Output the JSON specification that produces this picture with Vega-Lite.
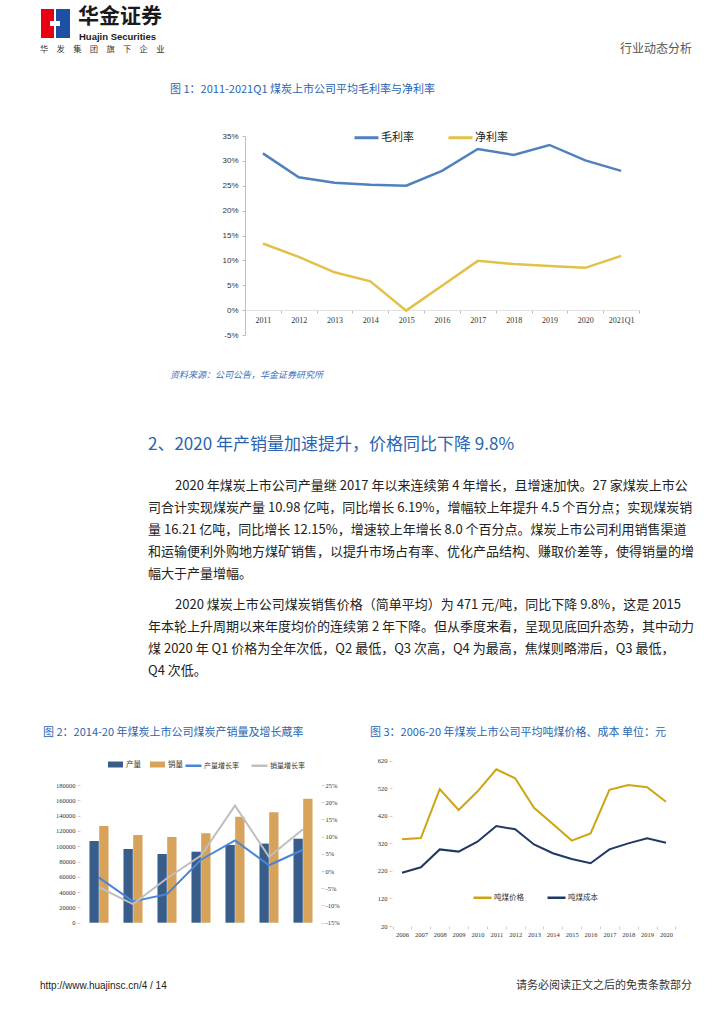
{
  "$schema": "https://vega.github.io/schema/vega-lite/v6.json",
  "width": 724,
  "height": 1024,
  "autosize": {"type": "none"},
  "padding": 0,
  "background": "#ffffff",
  "config": {
    "view": {"stroke": null},
    "font": "Noto Sans CJK SC",
    "axis": {"grid": false, "title": null, "labelColor": "#404040", "domainColor": "#bfbfbf", "tickColor": "#bfbfbf", "labelFlush": false, "labelOverlap": false, "labelAngle": 0}
  },
  "datasets": {
    "fig1": [
      {"年份": "2011", "指标": "毛利率", "值": 0.315}, {"年份": "2012", "指标": "毛利率", "值": 0.267},
      {"年份": "2013", "指标": "毛利率", "值": 0.256}, {"年份": "2014", "指标": "毛利率", "值": 0.252},
      {"年份": "2015", "指标": "毛利率", "值": 0.250}, {"年份": "2016", "指标": "毛利率", "值": 0.280},
      {"年份": "2017", "指标": "毛利率", "值": 0.324}, {"年份": "2018", "指标": "毛利率", "值": 0.312},
      {"年份": "2019", "指标": "毛利率", "值": 0.332}, {"年份": "2020", "指标": "毛利率", "值": 0.301},
      {"年份": "2021Q1", "指标": "毛利率", "值": 0.280},
      {"年份": "2011", "指标": "净利率", "值": 0.134}, {"年份": "2012", "指标": "净利率", "值": 0.107},
      {"年份": "2013", "指标": "净利率", "值": 0.076}, {"年份": "2014", "指标": "净利率", "值": 0.058},
      {"年份": "2015", "指标": "净利率", "值": -0.001}, {"年份": "2016", "指标": "净利率", "值": 0.049},
      {"年份": "2017", "指标": "净利率", "值": 0.099}, {"年份": "2018", "指标": "净利率", "值": 0.0925},
      {"年份": "2019", "指标": "净利率", "值": 0.0885}, {"年份": "2020", "指标": "净利率", "值": 0.085},
      {"年份": "2021Q1", "指标": "净利率", "值": 0.109}
    ],
    "fig2bars": [
      {"年份": "2014", "指标": "产量", "万吨": 106800}, {"年份": "2014", "指标": "销量", "万吨": 126400},
      {"年份": "2015", "指标": "产量", "万吨": 96300}, {"年份": "2015", "指标": "销量", "万吨": 114600},
      {"年份": "2016", "指标": "产量", "万吨": 89800}, {"年份": "2016", "指标": "销量", "万吨": 112000},
      {"年份": "2017", "指标": "产量", "万吨": 92800}, {"年份": "2017", "指标": "销量", "万吨": 116800},
      {"年份": "2018", "指标": "产量", "万吨": 101600}, {"年份": "2018", "指标": "销量", "万吨": 138600},
      {"年份": "2019", "指标": "产量", "万吨": 103400}, {"年份": "2019", "指标": "销量", "万吨": 144500},
      {"年份": "2020", "指标": "产量", "万吨": 109800}, {"年份": "2020", "指标": "销量", "万吨": 162100}
    ],
    "fig2lines": [
      {"年份": "2014", "指标": "产量增长率", "增长率": -0.019}, {"年份": "2015", "指标": "产量增长率", "增长率": -0.088},
      {"年份": "2016", "指标": "产量增长率", "增长率": -0.067}, {"年份": "2017", "指标": "产量增长率", "增长率": 0.033},
      {"年份": "2018", "指标": "产量增长率", "增长率": 0.089}, {"年份": "2019", "指标": "产量增长率", "增长率": 0.0169},
      {"年份": "2020", "指标": "产量增长率", "增长率": 0.0619},
      {"年份": "2014", "指标": "销量增长率", "增长率": -0.047}, {"年份": "2015", "指标": "销量增长率", "增长率": -0.096},
      {"年份": "2016", "指标": "销量增长率", "增长率": -0.021}, {"年份": "2017", "指标": "销量增长率", "增长率": 0.045},
      {"年份": "2018", "指标": "销量增长率", "增长率": 0.19}, {"年份": "2019", "指标": "销量增长率", "增长率": 0.0415},
      {"年份": "2020", "指标": "销量增长率", "增长率": 0.1215}
    ],
    "fig3": [
      {"年份": "2006", "指标": "吨煤价格", "元": 335}, {"年份": "2007", "指标": "吨煤价格", "元": 339},
      {"年份": "2008", "指标": "吨煤价格", "元": 517}, {"年份": "2009", "指标": "吨煤价格", "元": 441},
      {"年份": "2010", "指标": "吨煤价格", "元": 508}, {"年份": "2011", "指标": "吨煤价格", "元": 589},
      {"年份": "2012", "指标": "吨煤价格", "元": 556}, {"年份": "2013", "指标": "吨煤价格", "元": 449},
      {"年份": "2014", "指标": "吨煤价格", "元": 390}, {"年份": "2015", "指标": "吨煤价格", "元": 330},
      {"年份": "2016", "指标": "吨煤价格", "元": 356}, {"年份": "2017", "指标": "吨煤价格", "元": 514},
      {"年份": "2018", "指标": "吨煤价格", "元": 532}, {"年份": "2019", "指标": "吨煤价格", "元": 524},
      {"年份": "2020", "指标": "吨煤价格", "元": 471},
      {"年份": "2006", "指标": "吨煤成本", "元": 213}, {"年份": "2007", "指标": "吨煤成本", "元": 233},
      {"年份": "2008", "指标": "吨煤成本", "元": 298}, {"年份": "2009", "指标": "吨煤成本", "元": 290},
      {"年份": "2010", "指标": "吨煤成本", "元": 326}, {"年份": "2011", "指标": "吨煤成本", "元": 383},
      {"年份": "2012", "指标": "吨煤成本", "元": 371}, {"年份": "2013", "指标": "吨煤成本", "元": 316},
      {"年份": "2014", "指标": "吨煤成本", "元": 284}, {"年份": "2015", "指标": "吨煤成本", "元": 263},
      {"年份": "2016", "指标": "吨煤成本", "元": 248}, {"年份": "2017", "指标": "吨煤成本", "元": 298},
      {"年份": "2018", "指标": "吨煤成本", "元": 320}, {"年份": "2019", "指标": "吨煤成本", "元": 338},
      {"年份": "2020", "指标": "吨煤成本", "元": 322}
    ]
  },
  "layer": [
    {"data": {"values": [{}]}, "mark": {"type": "rect", "x": 41, "x2": 54, "y": 9, "y2": 38, "fill": "#e60012"}, "encoding": {}},
    {"data": {"values": [{}]}, "mark": {"type": "rect", "x": 56, "x2": 70, "y": 9, "y2": 38, "fill": "#1d50a2"}, "encoding": {}},
    {"data": {"values": [{}]}, "mark": {"type": "rect", "x": 50, "x2": 60, "y": 21, "y2": 26, "fill": "#ffffff"}, "encoding": {}},
    {"data": {"values": [{"t": "华金证券"}]}, "mark": {"type": "text", "x": 78, "y": 17, "align": "left", "baseline": "middle", "fontSize": 21, "fontWeight": "bold", "color": "#1a1a1a"}, "encoding": {"text": {"field": "t"}}},
    {"data": {"values": [{"t": "Huajin Securities"}]}, "mark": {"type": "text", "x": 79, "y": 36.5, "align": "left", "baseline": "middle", "font": "Liberation Sans", "fontSize": 9.5, "fontWeight": "bold", "color": "#1a1a1a"}, "encoding": {"text": {"field": "t"}}},
    {"data": {"values": [{"t": "华　发　集　团　旗　下　企　业"}]}, "mark": {"type": "text", "x": 40, "y": 49.5, "align": "left", "baseline": "middle", "fontSize": 8.3, "color": "#333333"}, "encoding": {"text": {"field": "t"}}},
    {"data": {"values": [{"t": "行业动态分析"}]}, "mark": {"type": "text", "x": 692, "y": 49, "align": "right", "baseline": "middle", "fontSize": 12, "color": "#555555"}, "encoding": {"text": {"field": "t"}}},
    {"data": {"values": [{}]}, "mark": {"type": "rule", "x": 40, "x2": 692, "y": 63, "y2": 63, "stroke": "#4f9ad6", "strokeWidth": 2}, "encoding": {}},

    {"data": {"values": [{"t": "图 1：2011-2021Q1 煤炭上市公司平均毛利率与净利率"}]}, "mark": {"type": "text", "x": 170, "y": 90, "align": "left", "baseline": "middle", "fontSize": 11, "color": "#2a64b0"}, "encoding": {"text": {"field": "t"}}},
    {"data": {"values": [{}]}, "mark": {"type": "rule", "x": 168, "x2": 692, "y": 98.5, "y2": 98.5, "stroke": "#6fa8dc", "strokeWidth": 1.2}, "encoding": {}},
    {"data": {"values": [{}]}, "mark": {"type": "rule", "x": 168, "x2": 692, "y": 365, "y2": 365, "stroke": "#6fa8dc", "strokeWidth": 1.2}, "encoding": {}},
    {"data": {"values": [{"t": "资料来源：公司公告，华金证券研究所"}]}, "mark": {"type": "text", "x": 170, "y": 375, "align": "left", "baseline": "middle", "fontSize": 9, "fontStyle": "italic", "color": "#3a6fb8"}, "encoding": {"text": {"field": "t"}}},

    {"data": {"values": [{"t": "2、2020 年产销量加速提升，价格同比下降 9.8%"}]}, "mark": {"type": "text", "x": 148, "y": 445, "align": "left", "baseline": "middle", "fontSize": 17, "color": "#2a64b0"}, "encoding": {"text": {"field": "t"}}},
    {"data": {"values": [{"t": "2020 年煤炭上市公司产量继 2017 年以来连续第 4 年增长，且增速加快。27 家煤炭上市公"}]}, "mark": {"type": "text", "x": 175, "y": 480, "align": "left", "baseline": "top", "fontSize": 13, "color": "#222222"}, "encoding": {"text": {"field": "t"}}},
    {"data": {"values": [{"t": "司合计实现煤炭产量 10.98 亿吨，同比增长 6.19%，增幅较上年提升 4.5 个百分点；实现煤炭销\n量 16.21 亿吨，同比增长 12.15%，增速较上年增长 8.0 个百分点。煤炭上市公司利用销售渠道\n和运输便利外购地方煤矿销售，以提升市场占有率、优化产品结构、赚取价差等，使得销量的增\n幅大于产量增幅。"}]}, "mark": {"type": "text", "x": 148, "y": 502, "align": "left", "baseline": "top", "fontSize": 13, "lineHeight": 22, "lineBreak": "\n", "color": "#222222"}, "encoding": {"text": {"field": "t"}}},
    {"data": {"values": [{"t": "2020 煤炭上市公司煤炭销售价格（简单平均）为 471 元/吨，同比下降 9.8%，这是 2015"}]}, "mark": {"type": "text", "x": 175, "y": 599, "align": "left", "baseline": "top", "fontSize": 13, "color": "#222222"}, "encoding": {"text": {"field": "t"}}},
    {"data": {"values": [{"t": "年本轮上升周期以来年度均价的连续第 2 年下降。但从季度来看，呈现见底回升态势，其中动力\n煤 2020 年 Q1 价格为全年次低，Q2 最低，Q3 次高，Q4 为最高，焦煤则略滞后，Q3 最低，\nQ4 次低。"}]}, "mark": {"type": "text", "x": 148, "y": 621, "align": "left", "baseline": "top", "fontSize": 13, "lineHeight": 22, "lineBreak": "\n", "color": "#222222"}, "encoding": {"text": {"field": "t"}}},

    {"data": {"values": [{"t": "图 2：2014-20 年煤炭上市公司煤炭产销量及增长蔵率"}]}, "mark": {"type": "text", "x": 43, "y": 733, "align": "left", "baseline": "middle", "fontSize": 11, "color": "#2a64b0"}, "encoding": {"text": {"field": "t"}}},
    {"data": {"values": [{}]}, "mark": {"type": "rule", "x": 42, "x2": 336, "y": 742.5, "y2": 742.5, "stroke": "#6fa8dc", "strokeWidth": 1.2}, "encoding": {}},
    {"data": {"values": [{"t": "图 3：2006-20 年煤炭上市公司平均吨煤价格、成本 单位：元"}]}, "mark": {"type": "text", "x": 370, "y": 733, "align": "left", "baseline": "middle", "fontSize": 11, "color": "#2a64b0"}, "encoding": {"text": {"field": "t"}}},
    {"data": {"values": [{}]}, "mark": {"type": "rule", "x": 368, "x2": 683, "y": 742.5, "y2": 742.5, "stroke": "#6fa8dc", "strokeWidth": 1.2}, "encoding": {}},

    {"data": {"values": [{}]}, "mark": {"type": "rule", "x": 40, "x2": 692, "y": 977, "y2": 977, "stroke": "#4f9ad6", "strokeWidth": 2}, "encoding": {}},
    {"data": {"values": [{"t": "http://www.huajinsc.cn/4 / 14"}]}, "mark": {"type": "text", "x": 40, "y": 986, "align": "left", "baseline": "middle", "font": "Liberation Sans", "fontSize": 10, "color": "#222222"}, "encoding": {"text": {"field": "t"}}},
    {"data": {"values": [{"t": "请务必阅读正文之后的免责条款部分"}]}, "mark": {"type": "text", "x": 692, "y": 986, "align": "right", "baseline": "middle", "fontSize": 11, "color": "#333333"}, "encoding": {"text": {"field": "t"}}},

    {
      "data": {"name": "fig1"},
      "mark": {"type": "line", "strokeWidth": 2.5},
      "encoding": {
        "x": {"field": "年份", "type": "ordinal", "sort": null, "bandPosition": 0.5,
          "scale": {"type": "band", "range": [245, 639], "paddingInner": 0, "paddingOuter": 0},
          "axis": {"orient": "bottom", "offset": -714, "tickBand": "extent", "labelFont": "Liberation Serif", "labelFontSize": 8, "labelPadding": 3, "tickSize": 3, "domainColor": "#e0e0e0", "labelColor": "#333333"}},
        "y": {"field": "值", "type": "quantitative",
          "scale": {"domain": [-0.05, 0.35], "range": [335, 136], "nice": false, "zero": false},
          "axis": {"orient": "left", "offset": -245, "values": [-0.05, 0, 0.05, 0.1, 0.15, 0.2, 0.25, 0.3, 0.35], "labelExpr": "(datum.value < 0 ? '-' : '') + format(abs(datum.value), '.0%')", "labelFont": "Liberation Sans", "labelFontSize": 8, "tickSize": 3, "labelPadding": 4, "labelColor": "#333333"}},
        "color": {"field": "指标", "type": "nominal",
          "scale": {"domain": ["毛利率", "净利率"], "range": ["#4f81bd", "#e3c146"]},
          "legend": {"orient": "none", "legendX": 353, "legendY": 124, "direction": "horizontal", "title": null, "symbolType": "stroke", "symbolSize": 576, "symbolStrokeWidth": 3, "labelFontSize": 11, "labelOffset": 1, "columnPadding": 28, "padding": 0, "labelColor": "#222222"}}
      }
    },

    {
      "layer": [
        {
          "data": {"name": "fig2bars"},
          "mark": {"type": "bar"},
          "encoding": {
            "x": {"field": "年份", "type": "ordinal", "sort": null,
              "scale": {"type": "band", "range": [82, 320], "paddingInner": 0.44, "paddingOuter": 0.22},
              "axis": {"orient": "bottom", "offset": -101.3, "tickBand": "extent", "labelFont": "Liberation Serif", "labelFontSize": 6.5, "labelPadding": 2, "tickSize": 3, "domain": false, "tickColor": "#d0d0d0", "labelColor": "#333333"}},
            "xOffset": {"field": "指标", "sort": ["产量", "销量"], "scale": {"paddingInner": 0.04}},
            "y": {"field": "万吨", "type": "quantitative",
              "scale": {"domain": [0, 180000], "range": [922.7, 785], "nice": false},
              "axis": {"orient": "left", "offset": -80, "values": [0, 20000, 40000, 60000, 80000, 100000, 120000, 140000, 160000, 180000], "format": "d", "labelFont": "Liberation Serif", "labelFontSize": 6.5, "tickSize": 3, "labelPadding": 2, "domain": false, "tickColor": "#d0d0d0", "labelColor": "#333333"}},
            "color": {"field": "指标", "type": "nominal",
              "scale": {"domain": ["产量", "销量"], "range": ["#385d8a", "#d7a35a"]},
              "legend": {"orient": "none", "legendX": 107, "legendY": 756, "direction": "horizontal", "title": null, "symbolType": "M-1,-0.4H1V0.4H-1Z", "symbolSize": 225, "labelFontSize": 7.5, "labelOffset": 2, "columnPadding": 8, "padding": 0, "labelColor": "#333333"}}
          }
        },
        {
          "data": {"name": "fig2lines"},
          "mark": {"type": "line", "strokeWidth": 2},
          "encoding": {
            "x": {"field": "年份", "type": "ordinal", "sort": null, "bandPosition": 0.5,
              "scale": {"type": "band", "range": [82, 320], "paddingInner": 0.44, "paddingOuter": 0.22},
              "axis": null},
            "y": {"field": "增长率", "type": "quantitative",
              "scale": {"domain": [-0.15, 0.25], "range": [922.7, 785], "nice": false, "zero": false},
              "axis": {"orient": "right", "offset": -403, "values": [-0.15, -0.1, -0.05, 0, 0.05, 0.1, 0.15, 0.2, 0.25], "labelExpr": "(datum.value < 0 ? '-' : '') + format(abs(datum.value), '.0%')", "labelFont": "Liberation Serif", "labelFontSize": 6.5, "tickSize": 3, "labelPadding": 1, "domain": false, "tickColor": "#d0d0d0", "labelColor": "#333333"}},
            "color": {"field": "指标", "type": "nominal",
              "scale": {"domain": ["产量增长率", "销量增长率"], "range": ["#4a86d8", "#bfbfbf"]},
              "legend": {"orient": "none", "legendX": 184, "legendY": 756, "direction": "horizontal", "title": null, "symbolType": "stroke", "symbolSize": 256, "symbolStrokeWidth": 2.5, "labelFontSize": 7, "labelOffset": 1, "columnPadding": 7, "padding": 0, "labelColor": "#333333"}}
          }
        }
      ],
      "resolve": {"scale": {"y": "independent", "color": "independent"}}
    },

    {
      "data": {"name": "fig3"},
      "mark": {"type": "line", "strokeWidth": 2},
      "encoding": {
        "x": {"field": "年份", "type": "ordinal", "sort": null, "bandPosition": 0.5,
          "scale": {"type": "band", "range": [392.6, 675.4], "paddingInner": 0, "paddingOuter": 0},
          "axis": {"orient": "bottom", "offset": -98, "tickBand": "extent", "labelFont": "Liberation Serif", "labelFontSize": 6.5, "labelPadding": 2, "tickSize": 3, "domain": false, "tickColor": "#d0d0d0", "labelColor": "#333333"}},
        "y": {"field": "元", "type": "quantitative",
          "scale": {"domain": [20, 620], "range": [926, 760.7], "nice": false, "zero": false},
          "axis": {"orient": "left", "offset": -392, "values": [20, 120, 220, 320, 420, 520, 620], "labelFont": "Liberation Serif", "labelFontSize": 6.5, "tickSize": 3, "labelPadding": 2, "domain": false, "tickColor": "#d0d0d0", "labelColor": "#333333"}},
        "color": {"field": "指标", "type": "nominal",
          "scale": {"domain": ["吨煤价格", "吨煤成本"], "range": ["#cfa414", "#1f3864"]},
          "legend": {"orient": "none", "legendX": 472, "legendY": 887, "direction": "horizontal", "title": null, "symbolType": "stroke", "symbolSize": 324, "symbolStrokeWidth": 2.5, "labelFontSize": 7.5, "labelOffset": 1, "columnPadding": 18, "padding": 0, "labelColor": "#333333"}}
      }
    }
  ],
  "resolve": {"scale": {"x": "independent", "y": "independent", "color": "independent"}}
}
